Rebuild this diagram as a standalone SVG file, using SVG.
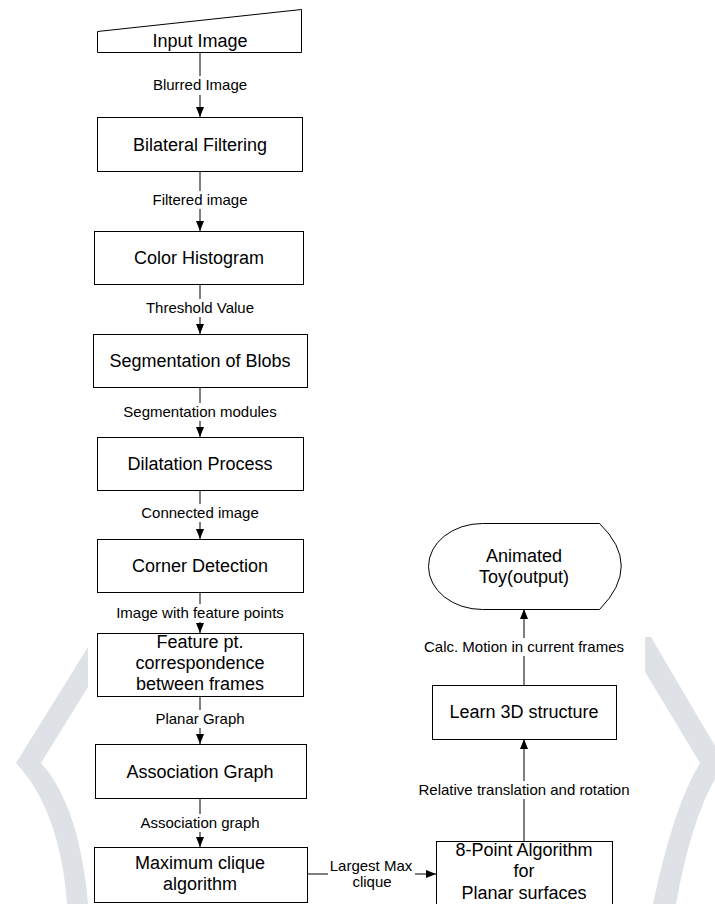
<svg xmlns="http://www.w3.org/2000/svg" width="715" height="904" viewBox="0 0 715 904">
<defs>
<marker id="ah" markerUnits="userSpaceOnUse" markerWidth="10" markerHeight="8" refX="10" refY="4" orient="auto">
<path d="M0,0 L10,4 L0,8 Z" fill="#000"/>
</marker>
<style>
.box{fill:#fff;stroke:#000;stroke-width:1}
.t{font-family:"Liberation Sans",Arial,sans-serif;font-size:18px;fill:#000;text-anchor:middle}
.l{font-family:"Liberation Sans",Arial,sans-serif;font-size:15px;fill:#000;text-anchor:middle}
.c{fill:none;stroke:#000;stroke-width:1;marker-end:url(#ah)}
.wm{fill:#dee2e6;stroke:none}
</style>
</defs>
<rect width="715" height="904" fill="#fff"/>
<g id="watermark">
<path class="wm" d="M88,647 L16,763 Q60,810 67,904 L88,904 Q79.5,806 41,763 L88,687 Z"/>
<path class="wm" d="M645,637 L651,637 L725,763 Q693.5,806 676,904 L653,904 Q673.5,806 700,763 L645,672 Z"/>
</g>
<g id="connectors">
<path class="c" d="M200,52 V76 M200,95 V117"/>
<path class="c" d="M200,171 V191 M200,209 V231"/>
<path class="c" d="M200,284 V299 M200,317 V334"/>
<path class="c" d="M200,387 V403 M200,421 V437"/>
<path class="c" d="M200,490 V504 M200,522 V539"/>
<path class="c" d="M200,592 V604 M200,622 V633"/>
<path class="c" d="M200,696 V710 M200,728 V744"/>
<path class="c" d="M200,798 V814 M200,832 V847"/>
<path class="c" d="M307,874 H328 M415,874 H436"/>
<path class="c" d="M524,841 V799 M524,781 V739"/>
<path class="c" d="M524,685 V656 M524,638 V609"/>
<text class="l" x="200" y="90">Blurred Image</text>
<text class="l" x="200" y="205">Filtered image</text>
<text class="l" x="200" y="313">Threshold Value</text>
<text class="l" x="200" y="417">Segmentation modules</text>
<text class="l" x="200" y="518">Connected image</text>
<text class="l" x="200" y="618">Image with feature points</text>
<text class="l" x="200" y="724">Planar Graph</text>
<text class="l" x="200" y="828">Association graph</text>
<text class="l" x="371" y="871">Largest Max</text>
<text class="l" x="372" y="887">clique</text>
<text class="l" x="524" y="795">Relative translation and rotation</text>
<text class="l" x="524" y="652">Calc. Motion in current frames</text>
</g>
<g id="input-image">
<polygon class="box" points="97.5,31.5 301.5,9.5 301.5,52.5 97.5,52.5"/>
<text class="t" x="200" y="47">Input Image</text>
</g>
<g id="bilateral-filtering">
<rect class="box" x="97.5" y="117.5" width="205" height="54"/>
<text class="t" x="200" y="151">Bilateral Filtering</text>
</g>
<g id="color-histogram">
<rect class="box" x="94.5" y="231.5" width="209" height="53"/>
<text class="t" x="199" y="264">Color Histogram</text>
</g>
<g id="segmentation">
<rect class="box" x="93.5" y="334.5" width="214" height="53"/>
<text class="t" x="200" y="367">Segmentation of Blobs</text>
</g>
<g id="dilatation">
<rect class="box" x="97.5" y="437.5" width="206" height="53"/>
<text class="t" x="200" y="470">Dilatation Process</text>
</g>
<g id="corner-detection">
<rect class="box" x="97.5" y="539.5" width="206" height="53"/>
<text class="t" x="200" y="572">Corner Detection</text>
</g>
<g id="feature-correspondence">
<rect class="box" x="97.5" y="633.5" width="206" height="63"/>
<text class="t" x="200" y="648">Feature pt.</text>
<text class="t" x="200" y="669">correspondence</text>
<text class="t" x="200" y="690">between frames</text>
</g>
<g id="association-graph">
<rect class="box" x="95.5" y="744.5" width="211" height="54"/>
<text class="t" x="200" y="778">Association Graph</text>
</g>
<g id="maximum-clique">
<rect class="box" x="94.5" y="847.5" width="213" height="55"/>
<text class="t" x="200" y="869">Maximum clique</text>
<text class="t" x="200" y="890">algorithm</text>
</g>
<g id="eight-point">
<rect class="box" x="436.5" y="841.5" width="176" height="70"/>
<text class="t" x="524" y="856">8-Point Algorithm</text>
<text class="t" x="524" y="877">for</text>
<text class="t" x="524" y="899">Planar surfaces</text>
</g>
<g id="learn-3d">
<rect class="box" x="432.5" y="685.5" width="184" height="54"/>
<text class="t" x="524" y="718">Learn 3D structure</text>
</g>
<g id="animated-toy">
<path class="box" d="M482.5,523.5 L599.5,523.5 Q643,565.5 599.5,609.5 L482.5,609.5 A54,43 0 0 1 482.5,523.5 Z"/>
<text class="t" x="524" y="562">Animated</text>
<text class="t" x="524" y="583">Toy(output)</text>
</g>
</svg>
